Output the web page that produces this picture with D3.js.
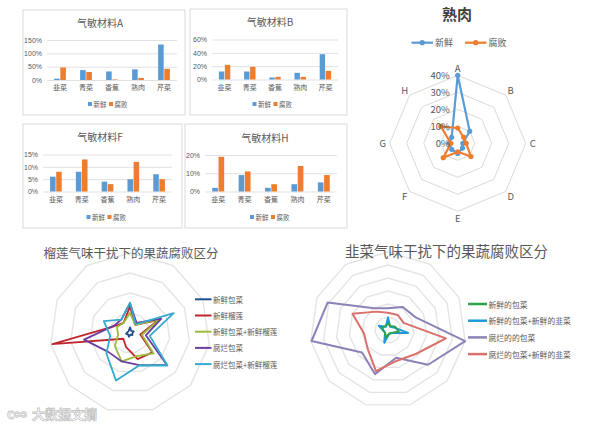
<!DOCTYPE html>
<html lang="zh">
<head>
<meta charset="utf-8">
<title>气敏材料</title>
<script src="https://cdn.jsdelivr.net/npm/d3@7"></script>
<style>
body { margin:0; background:#fff; }
svg { display:block; font-family:"Noto Sans CJK SC","Noto Sans",sans-serif; }
.grid line { stroke:#d9d9d9; stroke-width:0.8; }
.grid path { display:none; }
.grid text { fill:#595959; font-size:7px; }
</style>
</head>
<body>
<svg id="svgMain" width="600" height="429"></svg>
<script>
// bar charts
var foods = ["韭菜","青菜","香蕉","熟肉","芹菜"],
    states = ["新鲜","腐败"];
var aFresh = [5,37,32,40,133], aRot = [47,30,2,8,42], aTicks = [0,50,100,150];
var bFresh = [12,12,3,10,38],  bRot = [22,19,4,4,13], bTicks = [0,20,40,60];
var fFresh = [6,8,4,5,7],      fRot = [8,13,3,12,5],  fTicks = [0,5,10,15];
var hFresh = [2,9,2,4,5],      hRot = [19,11,4,14,9], hTicks = [0,10,20];

// radar 熟肉
var sensors = ["A","B","C","D","E","F","G","H"];
var meatFresh = [40,10,3,4,6,5,5,5],
    meatRot   = [9,5,5,11,5,12,4,14],
    meatTicks = [0,10,20,30,40];

// radar 榴莲 (11 axes)
var durianNames = ["新鲜包菜","新鲜榴莲","新鲜包菜+新鲜榴莲","腐烂包菜","腐烂包菜+新鲜榴莲"];
var dFreshCab   = [0.07,0.03,0.05,0.03,0.04,0.02,0.05,0.03,0.05,0.03,0.03],
    dFreshDur   = [0.33,0.12,0.39,0.13,0.37,0.34,0.18,0.11,0.98,0.21,0.15],
    dMix        = [0.25,0.12,0.40,0.15,0.39,0.30,0.37,0.25,0.15,0.18,0.15],
    dRotCab     = [0.37,0.15,0.43,0.20,0.61,0.42,0.37,0.36,0.58,0.22,0.20],
    dRotMix     = [0.38,0.13,0.60,0.25,0.62,0.42,0.62,0.39,0.25,0.36,0.20];

// radar 韭菜 (11 axes)
var leekNames = ["新鲜的包菜","新鲜的包菜+新鲜的韭菜","腐烂的的包菜","腐烂的包菜+新鲜的韭菜"];
var lFreshCab = [0.08,0.06,0.10,0.14,0.06,0.05,0.10,0.05,0.06,0.08,0.06],
    lFreshMix = [0.16,0.05,0.08,0.26,0.06,0.05,0.17,0.05,0.06,0.13,0.05],
    lRotCab   = [0.28,0.35,0.39,1.00,0.68,0.37,0.59,0.44,0.99,0.85,0.33],
    lRotMix   = [0.22,0.23,0.22,0.75,0.47,0.41,0.55,0.35,0.31,0.50,0.28];

var blue = "#5b9bd5", orange = "#ed7d31";
var svg = d3.select("svg");

function barChart(p) {
  var g = svg.append("g");
  g.append("rect")
      .attr("x", p.box[0]).attr("y", p.box[1])
      .attr("width", p.box[2] - p.box[0]).attr("height", p.box[3] - p.box[1])
      .attr("fill", "#fff").attr("stroke", "#d9d9d9");
  g.append("text")
      .attr("x", p.titleX).attr("y", p.titleY)
      .attr("text-anchor", "middle").attr("dominant-baseline", "central")
      .attr("font-size", 10).attr("fill", "#595959")
      .text(p.title);

  var x = d3.scaleBand().domain(foods).range([p.left, p.right]).paddingInner(0.5).paddingOuter(0.25),
      x1 = d3.scaleBand().domain(states).range([0, x.bandwidth()]).padding(0.1),
      y = d3.scaleLinear().domain([0, d3.max(p.ticks)]).range([p.bottom, p.top]);

  g.append("g")
      .attr("class", "grid")
      .attr("transform", "translate(" + p.left + ",0)")
      .call(d3.axisLeft(y).tickValues(p.ticks).tickSize(-(p.right - p.left)).tickPadding(5)
        .tickFormat(function(d) { return d + "%"; }));

  var rows = foods.map(function(f, i) { return {food: f, vals: [p.fresh[i], p.rot[i]]}; });
  g.selectAll(".cat")
    .data(rows)
    .enter().append("g")
      .attr("transform", function(d) { return "translate(" + x(d.food) + ",0)"; })
    .selectAll("rect")
    .data(function(d) { return d.vals.map(function(v, j) { return {s: states[j], v: v}; }); })
    .enter().append("rect")
      .attr("x", function(d) { return x1(d.s); })
      .attr("y", function(d) { return y(d.v); })
      .attr("width", x1.bandwidth())
      .attr("height", function(d) { return p.bottom - y(d.v); })
      .attr("fill", function(d, j) { return j ? orange : blue; });

  g.selectAll(".catlab")
    .data(foods)
    .enter().append("text")
      .attr("x", function(d) { return x(d) + x.bandwidth() / 2; })
      .attr("y", p.bottom + 7)
      .attr("text-anchor", "middle").attr("dominant-baseline", "central")
      .attr("font-size", 7).attr("fill", "#595959")
      .text(function(d) { return d; });

  var lx = (p.box[0] + p.box[2]) / 2 - 16;
  states.forEach(function(s, j) {
    g.append("rect").attr("x", lx + j * 21).attr("y", p.legY - 2).attr("width", 4).attr("height", 4)
        .attr("fill", j ? orange : blue);
    g.append("text").attr("x", lx + j * 21 + 5.5).attr("y", p.legY)
        .attr("dominant-baseline", "central").attr("font-size", 6.5).attr("fill", "#595959").text(s);
  });
}

barChart({title: "气敏材料A", box: [23,10,185,115], titleX: 100, titleY: 22, left: 47, right: 177, top: 40, bottom: 80,
  ticks: aTicks, fresh: aFresh, rot: aRot, legY: 104});
barChart({title: "气敏材料B", box: [190,9,347,115], titleX: 270, titleY: 21, left: 212, right: 338, top: 39.5, bottom: 79.5,
  ticks: bTicks, fresh: bFresh, rot: bRot, legY: 104});
barChart({title: "气敏材料F", box: [23,124,182,228], titleX: 100, titleY: 136, left: 43, right: 172, top: 154.5, bottom: 191.5,
  ticks: fTicks, fresh: fFresh, rot: fRot, legY: 217});
barChart({title: "气敏材料H", box: [185,124,347,228], titleX: 265, titleY: 137, left: 205, right: 337, top: 155, bottom: 191.5,
  ticks: hTicks, fresh: hFresh, rot: hRot, legY: 217});

// generic radar
function radar(o) {
  var g = svg.append("g").attr("transform", "translate(" + o.cx + "," + o.cy + ")");
  var n = o.n, step = 2 * Math.PI / n;
  var r = d3.scaleLinear().domain([0, o.max]).range([0, o.R]);
  var line = d3.lineRadial()
      .angle(function(d, i) { return i * step; })
      .radius(function(d) { return r(d); })
      .curve(d3.curveLinearClosed);

  g.selectAll(".ring")
    .data(o.rings)
    .enter().append("path")
      .attr("d", function(v) { return line(d3.range(n).map(function() { return v; })); })
      .attr("fill", "none").attr("stroke", o.ringColor || "#d9d9d9").attr("stroke-width", o.ringWidth || 1);

  o.series.forEach(function(s) {
    g.append("path")
        .attr("d", line(s.values))
        .attr("fill", "none").attr("stroke", s.color)
        .attr("stroke-width", o.lineWidth).attr("stroke-linejoin", "round");
    if (o.markers) {
      g.selectAll(null)
        .data(s.values)
        .enter().append("circle")
          .attr("cx", function(d, i) { return r(d) * Math.sin(i * step); })
          .attr("cy", function(d, i) { return -r(d) * Math.cos(i * step); })
          .attr("r", 2.6)
          .attr("fill", s.color);
    }
  });
  return {g: g, r: r, step: step};
}

// 熟肉
var meat = radar({cx: 457.7, cy: 143.3, R: 68, n: 8, max: 40, rings: meatTicks.slice(1), lineWidth: 2.2, markers: true,
  series: [{values: meatFresh, color: blue}, {values: meatRot, color: orange}]});

meat.g.selectAll(".tick")
  .data(meatTicks)
  .enter().append("text")
    .attr("x", -8).attr("y", function(d) { return -meat.r(d); })
    .attr("text-anchor", "end").attr("dominant-baseline", "central")
    .attr("font-size", 9.5).attr("fill", "#595959")
    .text(function(d) { return d + "%"; });

meat.g.selectAll(".axlab")
  .data(sensors)
  .enter().append("text")
    .attr("x", function(d, i) { return 75 * Math.sin(i * meat.step); })
    .attr("y", function(d, i) { return -75 * Math.cos(i * meat.step); })
    .attr("text-anchor", "middle").attr("dominant-baseline", "central")
    .attr("font-size", 9.5).attr("fill", "#595959")
    .text(function(d) { return d; });

svg.append("text").attr("x", 457).attr("y", 13.5)
    .attr("text-anchor", "middle").attr("dominant-baseline", "central")
    .attr("font-size", 15).attr("font-weight", "bold").attr("fill", "#404040").text("熟肉");

[{c: blue, x: 411.5, t: states[0]}, {c: orange, x: 465, t: states[1]}].forEach(function(l) {
  svg.append("line").attr("x1", l.x).attr("x2", l.x + 21.5).attr("y1", 42.7).attr("y2", 42.7)
      .attr("stroke", l.c).attr("stroke-width", 2.2);
  svg.append("circle").attr("cx", l.x + 10.7).attr("cy", 42.7).attr("r", 2.6).attr("fill", l.c);
  svg.append("text").attr("x", l.x + 23.5).attr("y", 42.7).attr("dominant-baseline", "central")
      .attr("font-size", 9).attr("fill", "#595959").text(l.t);
});

// 榴莲
var durianColors = ["#1f4e8c","#c0272d","#9bbb3b","#6b3fa0","#35a9cf"];
radar({cx: 130, cy: 333, R: 80, n: 11, max: 1, rings: [0.25,0.5,0.75,1], ringColor: "#e4e4e4", ringWidth: 1.4, lineWidth: 1.8,
  series: [dFreshCab, dFreshDur, dMix, dRotCab, dRotMix].map(function(v, i) { return {values: v, color: durianColors[i]}; })});

svg.append("text").attr("x", 131).attr("y", 252)
    .attr("text-anchor", "middle").attr("dominant-baseline", "central")
    .attr("font-size", 12.5).attr("fill", "#595959").text("榴莲气味干扰下的果蔬腐败区分");

durianNames.forEach(function(nm, i) {
  var yy = 299.3 + i * 16.2;
  svg.append("line").attr("x1", 195).attr("x2", 211.5).attr("y1", yy).attr("y2", yy)
      .attr("stroke", durianColors[i]).attr("stroke-width", 2);
  svg.append("text").attr("x", 213).attr("y", yy).attr("dominant-baseline", "central")
      .attr("font-size", 7.5).attr("fill", "#595959").text(nm);
});

// 韭菜
var leekColors = ["#2ca24b","#1e9ad8","#8c82b8","#d9706a"];
radar({cx: 388, cy: 330, R: 78, n: 11, max: 1, rings: [1,2,3,4,5,6].map(function(k) { return k / 6; }),
  ringColor: "#e4e4e4", ringWidth: 1.4, lineWidth: 2,
  series: [{values: lRotCab, color: leekColors[2]}, {values: lRotMix, color: leekColors[3]},
           {values: lFreshMix, color: leekColors[1]}, {values: lFreshCab, color: leekColors[0]}]});

svg.append("text").attr("x", 446.5).attr("y", 250)
    .attr("text-anchor", "middle").attr("dominant-baseline", "central")
    .attr("font-size", 14.5).attr("fill", "#595959").text("韭菜气味干扰下的果蔬腐败区分");

leekNames.forEach(function(nm, i) {
  var yy = 304 + i * 16.7;
  svg.append("line").attr("x1", 468).attr("x2", 487).attr("y1", yy).attr("y2", yy)
      .attr("stroke", leekColors[i]).attr("stroke-width", 2.5);
  svg.append("text").attr("x", 488.5).attr("y", yy).attr("dominant-baseline", "central")
      .attr("font-size", 7.8).attr("fill", "#595959").text(nm);
});

// watermark
svg.append("text").attr("x", 7).attr("y", 419).attr("font-size", 13).attr("font-weight", "bold")
    .attr("fill", "#fff").attr("stroke", "#c4c4c4").attr("stroke-width", 0.8).text("c∞");
svg.append("text").attr("x", 32).attr("y", 419).attr("font-size", 13).attr("font-weight", "bold")
    .attr("fill", "#fff").attr("stroke", "#c4c4c4").attr("stroke-width", 0.8).text("大数据文摘");
</script>
</body>
</html>
